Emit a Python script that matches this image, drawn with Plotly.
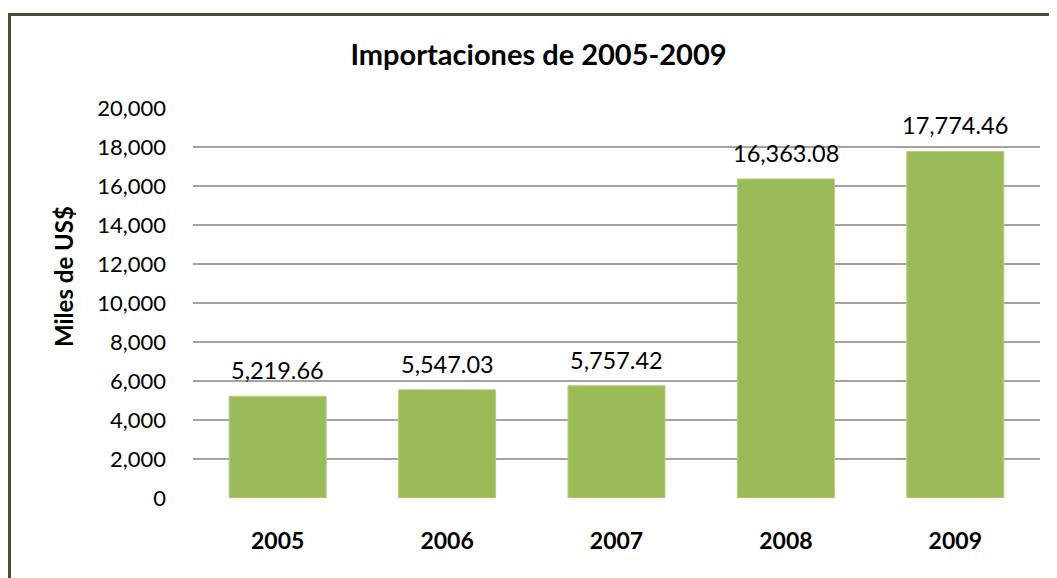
import plotly.graph_objects as go

years = ["2005", "2006", "2007", "2008", "2009"]
values = [5219.66, 5547.03, 5757.42, 16363.08, 17774.46]
labels = ["5,219.66", "5,547.03", "5,757.42", "16,363.08", "17,774.46"]
title_text = "Importaciones de 2005-2009"
y_title = "Miles de US$"

FONT = "Lato"
W, H = 1057, 578
OFF = 8  # page body margin offset
# target plot area on screen: x 193..1040, y 108..498
L = 193 - OFF
T = 108 - OFF
pw, ph = 847, 390
R = W - L - pw
B = H - T - ph

def px_x(p):
    return (p - OFF - L) / pw

def px_y(p):
    return (T + ph - (p - OFF)) / ph

fig = go.Figure()
fig.add_trace(go.Bar(
    x=years, y=values,
    marker=dict(color="#9bbb59", line=dict(color="#b5cf83", width=1)),
    hoverinfo="skip",
))

for i, (v, lab) in enumerate(zip(values, labels)):
    fig.add_annotation(x=i, y=v, text=lab, showarrow=False,
                       xref="x", yref="y", xanchor="center", yanchor="middle", yshift=26,
                       font=dict(family=FONT, size=23.5, color="#000000"))

fig.add_annotation(x=px_x(63), y=px_y(277), xref="paper", yref="paper",
                   xanchor="center", yanchor="middle",
                   text="<b>" + y_title + "</b>", textangle=-90, showarrow=False,
                   font=dict(family=FONT, size=24, color="#000000"))

fig.add_shape(type="rect", xref="paper", yref="paper",
              x0=px_x(9.5), x1=px_x(1075), y0=px_y(14.5), y1=px_y(600),
              line=dict(color="#504a37", width=3), fillcolor="rgba(0,0,0,0)",
              layer="below")

fig.update_layout(
    width=W, height=H,
    margin=dict(l=L, r=R, t=T, b=B),
    paper_bgcolor="white", plot_bgcolor="white",
    showlegend=False,
    bargap=0.427,
    title=dict(text="<b>" + title_text + "</b>", x=(538.5 - OFF) / W, xanchor="center",
               y=1 - (55 - OFF) / H, yanchor="middle",
               font=dict(family=FONT, size=29, color="#000000")),
    xaxis=dict(type="category", range=[-0.5, 4.5],
               showgrid=False, showline=False, zeroline=False,
               ticks="outside", ticklen=22, tickcolor="rgba(0,0,0,0)",
               tickfont=dict(family=FONT, size=23, color="#000000"),
               tickprefix="<b>", ticksuffix="</b>"),
    yaxis=dict(range=[0, 20000], dtick=2000, tickformat=",d",
               showgrid=True, gridcolor="#a3a3a3", gridwidth=1.5,
               zeroline=False, showline=False,
               ticklabelstandoff=26,
               tickfont=dict(family=FONT, size=22, color="#000000")),
)

fig.write_html("out.html")
